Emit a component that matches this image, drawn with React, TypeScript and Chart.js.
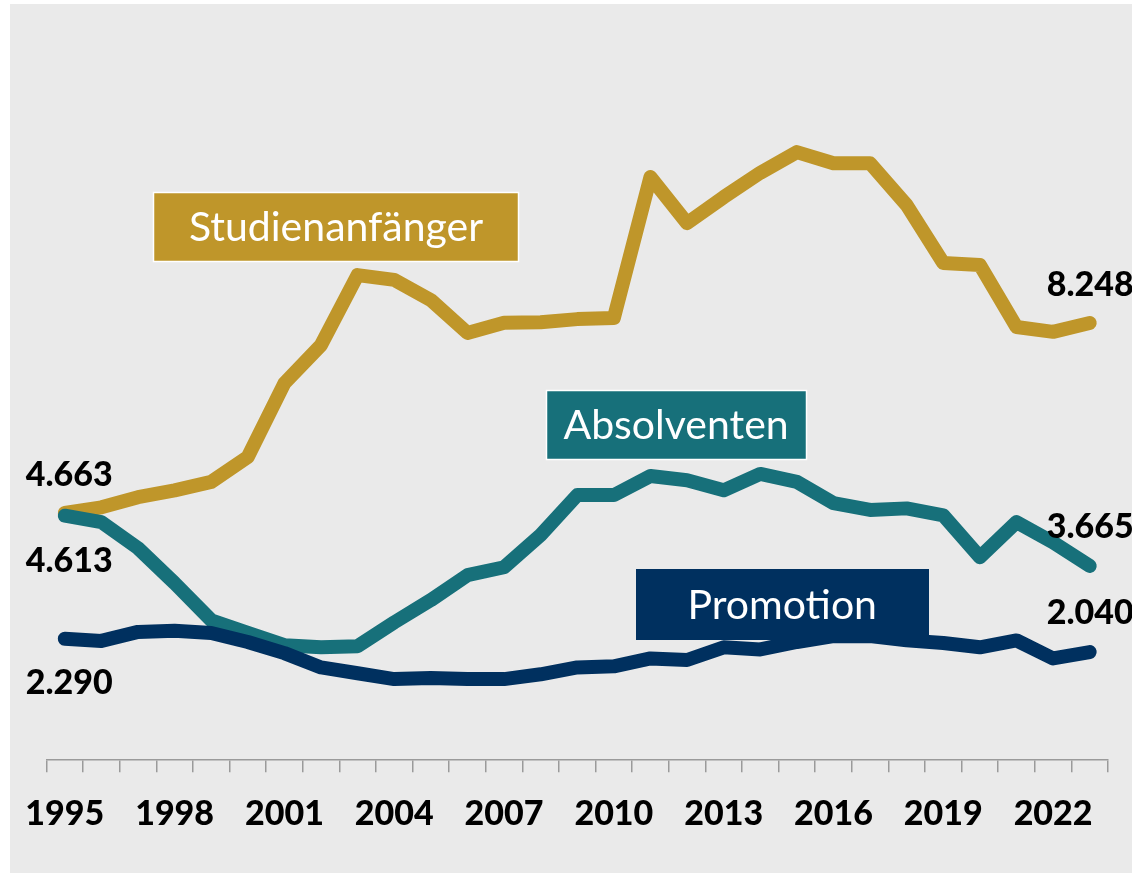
import React, { useEffect, useRef } from "react";
import { Chart, registerables } from "chart.js";

Chart.register(...registerables);

const years = [
  "1995", "1996", "1997", "1998", "1999", "2000", "2001", "2002", "2003", "2004",
  "2005", "2006", "2007", "2008", "2009", "2010", "2011", "2012", "2013", "2014",
  "2015", "2016", "2017", "2018", "2019", "2020", "2021", "2022", "2023",
];

const studienanfaenger = [
  4.663, 4.77, 4.96, 5.09, 5.25, 5.72, 7.11, 7.83, 9.15, 9.06,
  8.68, 8.06, 8.25, 8.26, 8.32, 8.34, 11.0, 10.13, 10.62, 11.08,
  11.47, 11.26, 11.26, 10.47, 9.38, 9.34, 8.17, 8.08, 8.248,
];

const absolventen = [
  4.613, 4.49, 4.0, 3.34, 2.64, 2.4, 2.17, 2.13, 2.15, 2.6,
  3.02, 3.49, 3.64, 4.25, 5.0, 5.0, 5.36, 5.28, 5.09, 5.4,
  5.25, 4.85, 4.72, 4.75, 4.62, 3.83, 4.49, 4.11, 3.665,
];

const promotion = [
  2.29, 2.25, 2.42, 2.44, 2.4, 2.23, 2.02, 1.75, 1.64, 1.53,
  1.55, 1.53, 1.53, 1.62, 1.75, 1.77, 1.92, 1.89, 2.13, 2.09,
  2.23, 2.34, 2.34, 2.26, 2.21, 2.13, 2.26, 1.92, 2.04,
];

const seriesNames = ["Studienanfänger", "Absolventen", "Promotion"];
const seriesColors = ["#bf962a", "#17707a", "#00305f"];
const startLabels = ["4.663", "4.613", "2.290"];
const endLabels = ["8.248", "3.665", "2.040"];

const NUM_FONT = "900 34px Lato";
const BOX_FONT = "41px Lato";

const annotationPlugin = {
  id: "annotations",
  beforeDraw(chart: any) {
    const ctx = chart.ctx;
    ctx.save();
    ctx.fillStyle = "#ffffff";
    ctx.fillRect(0, 0, chart.width, chart.height);
    ctx.fillStyle = "#eaeaea";
    ctx.fillRect(10, 4, chart.width - 10, chart.height - 6);
    ctx.restore();
  },
  afterDatasetsDraw(chart: any) {
    const ctx = chart.ctx;
    const xs = chart.scales.x;
    const ys = chart.scales.y;
    ctx.save();
    ctx.font = NUM_FONT;
    ctx.fillStyle = "#000000";
    ctx.textBaseline = "middle";
    ctx.textAlign = "left";
    const firstX = xs.getPixelForValue(0);
    const lastX = xs.getPixelForValue(years.length - 1);
    const startOffsets = [-38, 45, 44];
    const endOffsets = [-38, -39, -39];
    const allSeries = [studienanfaenger, absolventen, promotion];
    allSeries.forEach((s, i) => {
      const y0 = ys.getPixelForValue(s[0]);
      ctx.fillText(startLabels[i], firstX - 39, y0 + startOffsets[i]);
      const y1 = ys.getPixelForValue(s[s.length - 1]);
      ctx.fillText(endLabels[i], lastX - 43, y1 + endOffsets[i]);
    });
    const boxes = [
      { idx: 7.41, val: 10.06, w: 366, h: 70, border: true },
      { idx: 16.7, val: 6.33, w: 261, h: 70, border: true },
      { idx: 19.6, val: 2.93, w: 293, h: 71, border: false },
    ];
    ctx.font = BOX_FONT;
    ctx.textAlign = "center";
    boxes.forEach((b, i) => {
      const step = xs.getPixelForValue(1) - xs.getPixelForValue(0);
      const cx = xs.getPixelForValue(0) + step * b.idx;
      const cy = ys.getPixelForValue(b.val);
      const x = Math.round(cx - b.w / 2);
      const y = Math.round(cy - b.h / 2);
      ctx.fillStyle = seriesColors[i];
      ctx.fillRect(x, y, b.w, b.h);
      if (b.border) {
        ctx.strokeStyle = "#ffffff";
        ctx.lineWidth = 1.5;
        ctx.strokeRect(x + 0.5, y + 0.5, b.w - 1, b.h - 1);
      }
      ctx.fillStyle = "#ffffff";
      ctx.fillText(seriesNames[i], cx, cy + 1);
    });
    ctx.restore();
  },
};

export default function App() {
  const ref = useRef<HTMLCanvasElement>(null);
  useEffect(() => {
    if (!ref.current) return;
    const chart = new Chart(ref.current, {
      type: "line",
      data: {
        labels: years,
        datasets: [
          { label: seriesNames[0], data: studienanfaenger, borderColor: seriesColors[0], order: 3 },
          { label: seriesNames[1], data: absolventen, borderColor: seriesColors[1], order: 2 },
          { label: seriesNames[2], data: promotion, borderColor: seriesColors[2], order: 1 },
        ].map((d) => ({
          ...d,
          borderWidth: 14,
          borderCapStyle: "round" as const,
          borderJoinStyle: "round" as const,
          pointRadius: 0,
          tension: 0,
          fill: false,
        })),
      },
      options: {
        animation: false,
        responsive: false,
        devicePixelRatio: 1,
        layout: { padding: { left: 46.5, right: 24, top: 71, bottom: 20 } },
        plugins: { legend: { display: false }, tooltip: { enabled: false } },
        scales: {
          x: {
            type: "category",
            offset: true,
            grid: {
              offset: true,
              drawOnChartArea: false,
              drawTicks: true,
              tickLength: 12,
              color: "#9a9a9a",
              lineWidth: 1.5,
            },
            border: { display: true, color: "#9a9a9a", width: 1.5 },
            ticks: {
              autoSkip: false,
              maxRotation: 0,
              padding: 21,
              color: "#000000",
              font: { family: "Lato", size: 34, weight: 900 },
              callback: (_v: any, i: number) => (i % 3 === 0 ? years[i] : ""),
            },
          },
          y: { display: false, min: 0, max: 13 },
        },
      },
      plugins: [annotationPlugin],
    });
    return () => chart.destroy();
  }, []);
  return (
    <div style={{ position: "absolute", left: 0, top: 0, width: 1132, height: 875 }}>
      <canvas ref={ref} width={1132} height={875} />
    </div>
  );
}
